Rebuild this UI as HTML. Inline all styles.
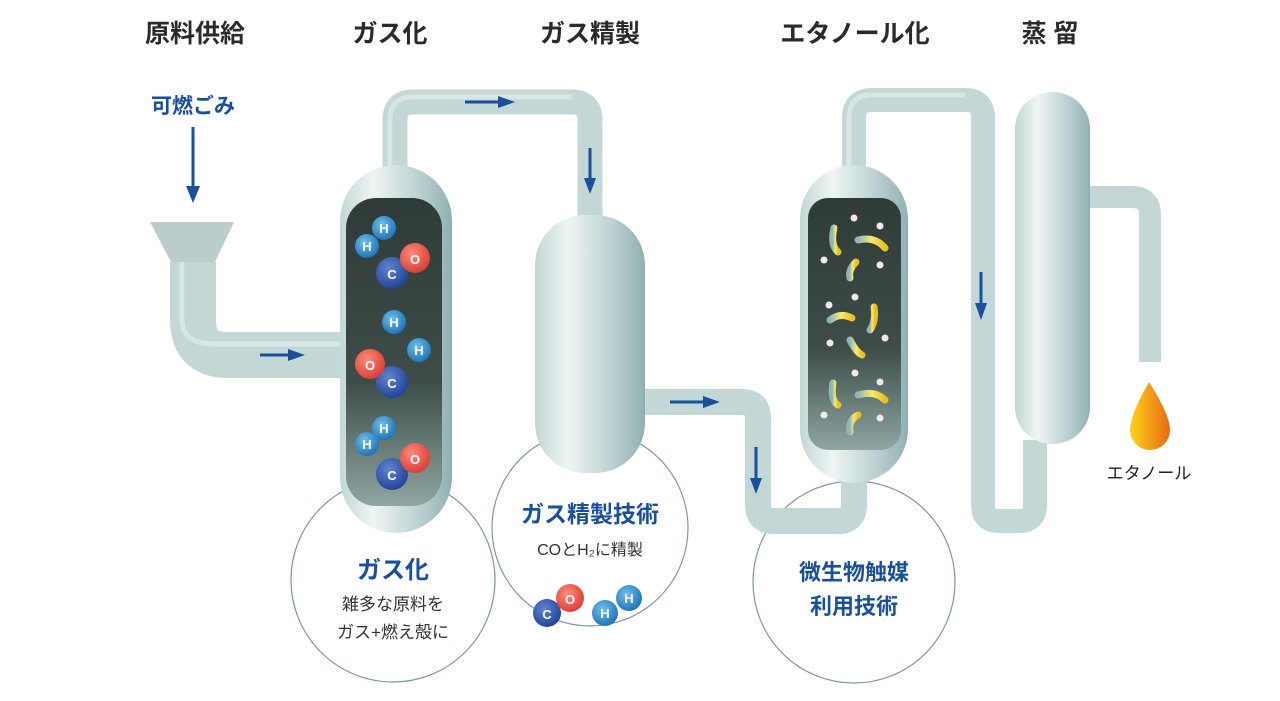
<!DOCTYPE html>
<html><head><meta charset="utf-8"><style>
html,body{margin:0;padding:0;background:#fff;}
body{width:1280px;height:696px;overflow:hidden;font-family:"Liberation Sans","Noto Sans CJK JP",sans-serif;}
</style></head><body>
<svg width="1280" height="696" viewBox="0 0 1280 696" xmlns="http://www.w3.org/2000/svg" font-family="Liberation Sans, Noto Sans CJK JP, sans-serif">
<defs>
<linearGradient id="vs" x1="0" x2="1"><stop offset="0" stop-color="#c2d6d6"/><stop offset=".3" stop-color="#eef5f4"/><stop offset=".75" stop-color="#b5cccc"/><stop offset="1" stop-color="#8fb0b0"/></linearGradient>
<linearGradient id="dk" x1="0" x2="0" y1="0" y2="1"><stop offset="0" stop-color="#2f3b38"/><stop offset=".6" stop-color="#3e4d49"/><stop offset="1" stop-color="#8fa6a2"/></linearGradient>
<radialGradient id="hb" cx=".4" cy=".35" r=".7"><stop offset="0" stop-color="#6cc0ec"/><stop offset="1" stop-color="#1c6fb4"/></radialGradient>
<radialGradient id="ob" cx=".4" cy=".35" r=".7"><stop offset="0" stop-color="#ff8a7a"/><stop offset="1" stop-color="#d83a32"/></radialGradient>
<radialGradient id="cb" cx=".4" cy=".35" r=".7"><stop offset="0" stop-color="#5f86d0"/><stop offset="1" stop-color="#1f3f95"/></radialGradient>
<linearGradient id="dr" x1="0" x2="1"><stop offset="0" stop-color="#ffd21c"/><stop offset="1" stop-color="#e86a10"/></linearGradient>
<linearGradient id="bac" x1="0" x2="1"><stop offset="0" stop-color="#8db6b8"/><stop offset=".5" stop-color="#f5ea70"/><stop offset="1" stop-color="#e8c020"/></linearGradient>
</defs>
<g font-size="25" font-weight="bold" fill="#2a2a2a" text-anchor="middle">
<text x="195" y="42">原料供給</text>
<text x="390" y="42">ガス化</text>
<text x="590" y="42">ガス精製</text>
<text x="855" y="42">エタノール化</text>
<text x="1050" y="42">蒸 留</text>
</g>
<g fill="none" stroke="#7f94b4" stroke-width="1.2">
<circle cx="393" cy="580" r="102"/>
<circle cx="590" cy="528" r="98"/>
<circle cx="854" cy="582" r="101"/>
</g>
<g fill="none" stroke="#c3d7d6" stroke-linejoin="round">
<path d="M193 262 V320 Q193 355 228 355 H350" stroke-width="46"/>
<path d="M395 175 V120 Q395 102 413 102 H572 Q590 102 590 120 V225" stroke-width="25"/>
<path d="M640 402 H742 Q758 402 758 418 V505 Q758 521 774 521 H838 Q854 521 854 505 V470" stroke-width="26"/>
<path d="M854 170 V118 Q854 100 872 100 H965 Q983 100 983 118 V505 Q983 521 999 521 H1019 Q1035 521 1035 505 V440" stroke-width="24"/>
<path d="M1085 197 H1132 Q1150 197 1150 215 V362" stroke-width="22"/>
</g>
<g fill="none" stroke="#e2ecec" stroke-width="5" opacity=".7">
<path d="M182 262 V320 Q182 344 215 344 H350"/>
<path d="M390 175 V120 Q390 97 413 97 H572"/>
<path d="M849 170 V118 Q849 95 872 95 H965"/>
</g>
<polygon points="150,222 234,222 215,262 171,262" fill="#bccbcb"/>
<rect x="340" y="165" width="112" height="368" rx="56" fill="url(#vs)"/>
<rect x="346" y="198" width="96" height="308" rx="30" fill="url(#dk)"/>
<rect x="535" y="215" width="110" height="258" rx="50" fill="url(#vs)"/>
<rect x="800" y="165" width="108" height="318" rx="54" fill="url(#vs)"/>
<rect x="808" y="198" width="93" height="252" rx="20" fill="url(#dk)"/>
<rect x="1015" y="92" width="75" height="352" rx="37" fill="url(#vs)"/>
<g font-size="13" font-weight="bold" fill="#fff" text-anchor="middle">
<circle cx="384" cy="228" r="12" fill="url(#hb)"/><text x="384" y="233">H</text>
<circle cx="367" cy="246" r="12" fill="url(#hb)"/><text x="367" y="251">H</text>
<circle cx="392" cy="273" r="16" fill="url(#cb)"/><text x="392" y="279">C</text>
<circle cx="415" cy="258" r="15" fill="url(#ob)"/><text x="415" y="264">O</text>
<circle cx="394" cy="322" r="12" fill="url(#hb)"/><text x="394" y="327">H</text>
<circle cx="419" cy="350" r="12" fill="url(#hb)"/><text x="419" y="355">H</text>
<circle cx="392" cy="382" r="16" fill="url(#cb)"/><text x="392" y="388">C</text>
<circle cx="370" cy="364" r="15" fill="url(#ob)"/><text x="370" y="370">O</text>
<circle cx="384" cy="428" r="12" fill="url(#hb)"/><text x="384" y="433">H</text>
<circle cx="367" cy="444" r="12" fill="url(#hb)"/><text x="367" y="449">H</text>
<circle cx="392" cy="474" r="16" fill="url(#cb)"/><text x="392" y="480">C</text>
<circle cx="415" cy="458" r="15" fill="url(#ob)"/><text x="415" y="464">O</text>
<circle cx="547" cy="613" r="14" fill="url(#cb)"/><text x="547" y="619">C</text>
<circle cx="570" cy="598" r="14" fill="url(#ob)"/><text x="570" y="604">O</text>
<circle cx="605" cy="613" r="13" fill="url(#hb)"/><text x="605" y="618">H</text>
<circle cx="629" cy="598" r="13" fill="url(#hb)"/><text x="629" y="603">H</text>
</g>
<g fill="none" stroke="url(#bac)" stroke-width="7" stroke-linecap="round">
<path d="M834 228 Q830 245 838 252"/><path d="M858 240 Q875 236 885 248"/><path d="M850 278 Q848 270 856 262"/>
<path d="M830 320 Q840 312 852 318"/><path d="M874 307 Q876 322 870 330"/><path d="M850 340 Q856 352 862 355"/>
<path d="M833 383 Q830 400 838 405"/><path d="M858 395 Q875 390 885 400"/><path d="M850 432 Q848 420 858 415"/>
</g>
<g fill="#f3e6ee">
<circle cx="854" cy="218" r="3.5"/><circle cx="880" cy="226" r="3.5"/><circle cx="824" cy="260" r="3.5"/><circle cx="880" cy="265" r="3.5"/>
<circle cx="855" cy="297" r="3.5"/><circle cx="829" cy="305" r="3.5"/><circle cx="885" cy="338" r="3.5"/><circle cx="830" cy="343" r="3.5"/>
<circle cx="855" cy="373" r="3.5"/><circle cx="880" cy="382" r="3.5"/><circle cx="824" cy="415" r="3.5"/><circle cx="880" cy="418" r="3.5"/>
</g>
<path d="M1149 382 Q1170 415 1170 430 A20 20 0 0 1 1130 430 Q1130 415 1149 382 Z" fill="url(#dr)"/>
<text x="1149" y="479" font-size="17" fill="#222" text-anchor="middle">エタノール</text>
<g fill="#1a4f9c" stroke="#1a4f9c">
<line x1="193" y1="127" x2="193" y2="188" stroke-width="3"/><polygon points="186,186 200,186 193,203" stroke="none"/>
<line x1="260" y1="355" x2="290" y2="355" stroke-width="3"/><polygon points="288,349 305,355 288,361" stroke="none"/>
<line x1="465" y1="102" x2="500" y2="102" stroke-width="3"/><polygon points="498,96 515,102 498,108" stroke="none"/>
<line x1="590" y1="148" x2="590" y2="180" stroke-width="3"/><polygon points="584,178 596,178 590,194" stroke="none"/>
<line x1="670" y1="402" x2="705" y2="402" stroke-width="3"/><polygon points="703,396 720,402 703,408" stroke="none"/>
<line x1="756" y1="447" x2="756" y2="480" stroke-width="3"/><polygon points="750,478 762,478 756,494" stroke="none"/>
<line x1="981" y1="272" x2="981" y2="305" stroke-width="3"/><polygon points="975,303 987,303 981,320" stroke="none"/>
</g>
<text x="193" y="113" font-size="21" font-weight="bold" fill="#1a4f9c" text-anchor="middle">可燃ごみ</text>
<g text-anchor="middle">
<text x="393" y="578" font-size="24" font-weight="bold" fill="#1a4f9c">ガス化</text>
<text x="393" y="610" font-size="17" fill="#333">雑多な原料を</text>
<text x="393" y="638" font-size="17" fill="#333">ガス+燃え殻に</text>
<text x="590" y="522" font-size="23" font-weight="bold" fill="#1a4f9c">ガス精製技術</text>
<text x="590" y="555" font-size="16" fill="#333">COとH₂に精製</text>
<text x="854" y="580" font-size="22" font-weight="bold" fill="#1a4f9c">微生物触媒</text>
<text x="854" y="614" font-size="22" font-weight="bold" fill="#1a4f9c">利用技術</text>
</g>
</svg>
</body></html>
